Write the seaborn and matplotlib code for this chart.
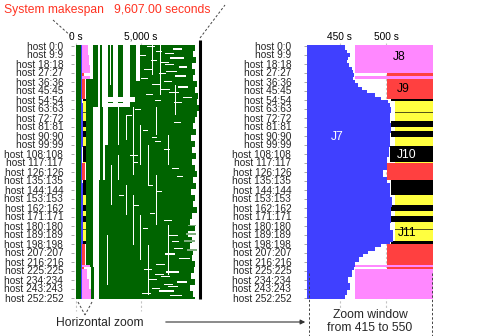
import matplotlib
matplotlib.use("Agg")
import matplotlib.pyplot as plt
import seaborn as sns
import pandas as pd
from matplotlib.lines import Line2D
from matplotlib.patches import FancyArrowPatch

# ---------------- data ----------------
N_HOSTS = 254
host_ticks = list(range(0, 253, 9))
host_labels = [f"host {h}:{h}" for h in host_ticks]
makespan = 9607.0
zoom_lo, zoom_hi = 415, 550
left_ticks = [0, 5000]
left_ticklabels = ["0 s", "5,000 s"]
right_ticks = [450, 500]
right_ticklabels = ["450 s", "500 s"]

job_colors = {"J7": "#4040ff", "J8": "#ff88ff", "J9": "#ff4040",
              "J10": "#000000", "J11": "#ffff40", "G": "#006400",
              "GL": "#7fae7f"}

# J7 (blue): start and per-band end times (band starts at the listed host)
j7_start = 395
j7_band_hosts = [0, 5, 8, 12, 15, 18, 22, 25, 28, 32, 35, 38, 42, 45, 48, 52,
                 55, 58, 62, 68, 78, 88, 98, 102, 112, 125, 132, 138, 152, 162,
                 178, 185, 197, 199, 202, 206, 209, 212, 217, 222, 225, 232,
                 238, 245, 250]
j7_band_end = [456, 457.6, 461, 459, 457.6, 460, 463, 464.5, 465.5, 464, 466.6,
               470, 474, 479, 488, 495, 502, 504, 505, 504, 505, 504, 504, 503,
               501, 497, 501, 504, 506, 505, 504, 507, 504, 495, 488, 481, 475.5,
               471, 466.6, 465.5, 463, 459.4, 461, 457.6, 456]

# other jobs: job, first host, end host (exclusive), start, end
seg_job = ["J8", "J8", "J8", "J9", "J8", "J9", "J10", "J11", "J10", "J11",
           "J10", "J11", "J10", "J11", "J9", "J10", "J11", "J10", "J11", "J10",
           "J11", "J10", "J9", "J8", "J9", "J8", "J8", "J8"]
seg_lo = [0, 10, 20, 28, 31, 34, 54, 56, 76, 82, 86, 92, 101, 117, 118, 135,
          150, 160, 166, 171, 177, 196, 199, 220, 222, 224, 234, 244]
seg_hi = [10, 20, 28, 31, 34, 54, 56, 76, 82, 86, 92, 101, 117, 118, 135, 150,
          160, 166, 171, 177, 196, 199, 220, 222, 224, 234, 244, 254]
seg_start = [466.6, 466.6, 466.6, 501, 466.6, 501, 505, 509.6, 505, 509.6, 505,
             509.6, 504, 509.6, 501, 505, 509.6, 505, 509.6, 505, 509.6, 505,
             501, 466.6, 501, 466.6, 466.6, 466.6]
seg_end = [950, 1000, 1100, 640, 1100, 720, 760, 740, 760, 740, 760, 740, 760,
           740, 720, 760, 740, 760, 740, 760, 740, 760, 720, 1060, 640, 850,
           1000, 1140]
thin_hosts = [67, 184]

# background jobs (green) per host zone
green_zone_lo = [0, 34, 62, 100, 135, 222]
green_zone_hi = [34, 62, 100, 135, 222, 254]
green_zone_spans = [
    [(0, 390), (1320, 1700), (1840, 1980), (2480, 2900), (3250, 3650)],
    [(0, 390), (780, 1700), (1840, 2000), (2480, 2900), (3250, 3650)],
    [(0, 390), (780, 1320), (1840, 2090)],
    [(0, 390), (780, 1320), (1840, 2090)],
    [(0, 390), (780, 1320)],
    [(0, 390), (1160, 1400)],
]
green_zone_tail = [4150, 4150, 2480, 2250, 1780, 1780]
green_end_band_hosts = list(range(0, 254, 6))
green_end_times = [9200, 9050, 9300, 8950, 9250, 9100, 9350, 9200, 9450, 9350,
                   9500, 9400, 9200, 9050, 9300, 8900, 9250, 9000, 9300, 8950,
                   9200, 9350, 9100, 9300, 8900, 9250, 9100, 9350, 9000, 8850,
                   9250, 8700, 9000, 8800, 9100, 8950, 9200, 9150, 8900, 9250,
                   8800, 9100, 9200]
# white horizontal gaps between tasks inside the green area
gap_lo = [0, 52, 58, 3, 8, 12, 17, 21, 26, 30, 36, 41, 47, 52, 57, 70, 85, 110,
          140, 160, 175, 183, 190, 96, 123, 150, 203, 208, 213, 226, 231, 236,
          241, 245, 250, 1, 6, 10, 15, 19, 24, 28, 33, 39, 44, 49, 55, 64, 77,
          92, 104, 117, 131, 146, 168, 196, 219, 224, 229, 234, 239, 243, 248]
gap_hi = [36, 57, 62, 5, 9, 14, 18, 23, 27, 32, 37, 43, 48, 53, 58, 71, 86, 111,
          141, 161, 176, 184, 191, 97, 124, 151, 204, 210, 214, 228, 232, 238,
          242, 247, 251, 2, 7, 11, 16, 20, 25, 29, 34, 40, 45, 50, 56, 65, 78,
          93, 105, 118, 132, 147, 169, 197, 220, 225, 230, 235, 240, 244, 249]
gap_start = [4650, 2480, 2480, 7500, 6900, 7300, 6600, 8000, 7000, 7700, 6800,
             7900, 7200, 8300, 7600, 3900, 5200, 4200, 5600, 4500, 6800, 5200,
             7200, 6100, 7400, 3300, 7600, 6900, 8000, 7000, 6600, 7800, 7100,
             6400, 7300, 5500, 6200, 4900, 5800, 6900, 5300, 6400, 5000, 5900,
             6600, 5400, 6100, 4600, 7600, 5900, 6800, 4400, 7800, 6300, 5700,
             7400, 6200, 5300, 6100, 5600, 6800, 5900, 5100]
gap_end = [4930, 4550, 3800, 8200, 7600, 8400, 7200, 8600, 7800, 8500, 7400,
           8700, 8000, 9000, 8200, 4300, 5600, 4800, 6000, 4900, 7400, 5600,
           7900, 6600, 8000, 3700, 8300, 7700, 8800, 8000, 7300, 8600, 7900,
           7600, 8200, 6100, 6700, 5400, 6300, 7600, 5900, 7000, 5600, 6500,
           7300, 6000, 6600, 5000, 8100, 6300, 7300, 4800, 8300, 6700, 6100,
           8000, 6900, 5900, 6800, 6300, 7500, 6500, 5800]
# thin white vertical breaks inside the green area
vgap_lo = [62, 110, 140, 70, 62, 150, 80, 170, 100, 200, 62, 130, 180, 90, 34,
           0, 0, 0, 40, 120, 190]
vgap_hi = [100, 135, 170, 95, 130, 200, 120, 215, 140, 250, 90, 180, 230, 120,
           62, 30, 50, 40, 70, 160, 240]
vgap_t = [3255, 3255, 3900, 3900, 4420, 4420, 4935, 4935, 5580, 5580, 6225,
          6225, 7130, 7130, 5000, 5900, 6500, 2650, 7700, 2700, 2400]
light_lo = [180, 188, 195, 204]
light_hi = [181, 190, 197, 206]
light_start = [8700, 8500, 8400, 8600]
light_end = [9300, 9300, 9250, 9350]

job_label_text = ["J7", "J8", "J9", "J10", "J11"]
job_label_x = [447, 514, 518, 522.5, 522.5]
job_label_host = [92, 12, 43, 110, 188]
job_label_color = ["white", "black", "black", "white", "black"]

# ---------------- build segment table ----------------
rows = []
for i, h in enumerate(j7_band_hosts):
    hi = j7_band_hosts[i + 1] if i + 1 < len(j7_band_hosts) else N_HOSTS
    rows.append(("J7", h, hi, j7_start, j7_band_end[i], 2))
for j, lo, hi, s, e in zip(seg_job, seg_lo, seg_hi, seg_start, seg_end):
    rows.append((j, lo, hi, s, e, 2))
for zlo, zhi, spans, tail in zip(green_zone_lo, green_zone_hi, green_zone_spans, green_zone_tail):
    for s, e in spans:
        rows.append(("G", zlo, zhi, s, e, 1))
    for i, b in enumerate(green_end_band_hosts):
        blo, bhi = max(b, zlo), min(b + 6, zhi, N_HOSTS)
        if blo < bhi:
            rows.append(("G", blo, bhi, tail, green_end_times[i], 1))
for lo, hi, s, e in zip(light_lo, light_hi, light_start, light_end):
    rows.append(("GL", lo, hi, s, e, 1.2))
df = pd.DataFrame(rows, columns=["job", "lo", "hi", "start", "end", "z"])
gaps = pd.DataFrame({"lo": gap_lo, "hi": gap_hi, "start": gap_start, "end": gap_end})
vgaps = pd.DataFrame({"lo": vgap_lo, "hi": vgap_hi, "start": vgap_t,
                      "end": [t + 70 for t in vgap_t]})

# ---------------- figure ----------------
sns.set_theme(style="white")
plt.rcParams["font.family"] = ["Liberation Sans", "DejaVu Sans"]

W, H = 479, 336
fig = plt.figure(figsize=(W / 100, H / 100), dpi=100)


def rect(x0, x1, y0, y1):
    return [x0 / W, 1 - y1 / H, (x1 - x0) / W, (y1 - y0) / H]


ax1 = fig.add_axes(rect(74, 202, 45, 299))
ax2 = fig.add_axes(rect(307, 432.6, 45, 299))

k = 124 / makespan
ax1.set_xlim(-2 / k, makespan + 2 / k)
ax2.set_xlim(zoom_lo, zoom_hi)


def draw(ax, d, color, z):
    ax.barh(y=d["lo"] - 0.5, width=d["end"] - d["start"], left=d["start"],
            height=(d["hi"] - d["lo"]), align="edge",
            color=color, linewidth=0, zorder=z, antialiased=False)


for ax in (ax1, ax2):
    for job, d in df.groupby("job"):
        draw(ax, d, job_colors[job], d["z"].iloc[0])
    draw(ax, gaps, "white", 1.1)
    draw(ax, vgaps, "white", 1.1)
    for h in thin_hosts:
        ax.barh(y=h - 0.3, width=740 - 509.6, left=509.6, height=0.6,
                align="edge", color="#55551a", linewidth=0, zorder=2.5)
    ax.set_ylim(N_HOSTS - 0.5, -0.5)
    ax.set_yticks(host_ticks)
    ax.set_yticklabels(host_labels)
    ax.xaxis.tick_top()
    ax.tick_params(axis="x", length=0, pad=2.5, labelsize=7.3, colors="black")
    for s in ax.spines.values():
        s.set_visible(False)
    ax.grid(False)
    ax.set_facecolor("none")

ax1.tick_params(axis="y", length=2, width=0.6, color="#999999", pad=5.8,
                labelsize=7.3, left=True)
ax2.tick_params(axis="y", length=2, width=0.6, color="#999999", pad=9.4,
                labelsize=7.3, left=True)
ax1.set_xticks(left_ticks)
ax1.set_xticklabels(left_ticklabels)
ax2.set_xticks(right_ticks)
ax2.set_xticklabels(right_ticklabels)

# grid lines at tick positions (extend slightly outside axes)
for ax, ticks in ((ax1, left_ticks), (ax2, right_ticks)):
    for t in ticks:
        ax.plot([t, t], [-3, 265], color="#c4c4c4", lw=0.8, ls=(0, (2, 2)),
                clip_on=False, zorder=0.5)

# makespan line
ax1.plot([makespan, makespan], [-5.5, 253.5], color="black", lw=2.2,
         clip_on=False, solid_capstyle="butt", zorder=5)

for t, x, h, c in zip(job_label_text, job_label_x, job_label_host, job_label_color):
    ax2.text(x, h, t, color=c, ha="center", va="center", fontsize=8.7, zorder=6)

# ---------------- annotations ----------------
def P(x, y):
    return (x / W, 1 - y / H)


def fline(x0, y0, x1, y1, **kw):
    (a, b), (c, d) = P(x0, y0), P(x1, y1)
    fig.add_artist(Line2D([a, c], [b, d], transform=fig.transFigure, **kw))


fig.text(*P(4, 10), "System makespan   9,607.00 seconds", color="#ff3322",
         fontsize=8.7, ha="left", va="center")
dash = dict(color="#444444", lw=0.7, ls=(0, (2.5, 2)))
fline(53, 20, 72, 37, **dash)
fline(200, 38, 225, 5, **dash)
fline(78, 302, 85, 315, **dash)
fline(92, 302, 85, 315, **dash)
fline(309, 273, 309, 336, **dash)
fline(431.5, 273, 431.5, 336, **dash)

fig.text(*P(100, 323), "Horizontal zoom", fontsize=8.7, ha="center", va="center")
fig.text(*P(370, 315), "Zoom window", fontsize=8.7, ha="center", va="center")
fig.text(*P(370, 328), "from 415 to 550", fontsize=8.7, ha="center", va="center")
arr = FancyArrowPatch(P(163, 322), P(308, 322), transform=fig.transFigure,
                      arrowstyle="-|>", mutation_scale=7, color="#333333", lw=0.8)
fig.add_artist(arr)

fig.savefig("out.png", dpi=100)
